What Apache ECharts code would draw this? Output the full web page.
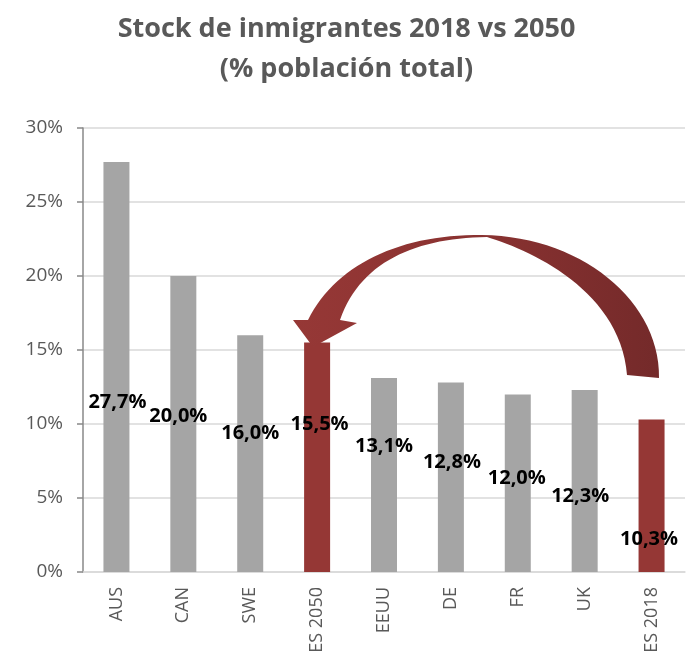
<!DOCTYPE html>
<html>
<head>
<meta charset="utf-8">
<script src="https://cdn.jsdelivr.net/npm/echarts@6/dist/echarts.min.js"></script>
<style>
html,body{margin:0;padding:0;background:#fff;}
#chart{width:693px;height:664px;}
</style>
</head>
<body>
<div id="chart"></div>
<script>
var categories = ['AUS', 'CAN', 'SWE', 'ES 2050', 'EEUU', 'DE', 'FR', 'UK', 'ES 2018'];
var values = [27.7, 20.0, 16.0, 15.5, 13.1, 12.8, 12.0, 12.3, 10.3];
var highlighted = ['ES 2050', 'ES 2018'];
var yTicks = [0, 5, 10, 15, 20, 25, 30];
var titleText = 'Stock de inmigrantes 2018 vs 2050\n(% población total)';

// label offsets (style only): [dx, dy] from the bar's inside-bottom anchor
var labelOffsets = [[1, -160], [-5, -146], [0, -129], [2.5, -138], [0, -116], [1, -100], [-1, -84], [-4.5, -66], [-2.5, -23]];

var GRAY = '#a5a5a5';
var RED = '#953735';

// decorative curved arrow outline (pixel space)
function bez(p0, p1, p2, p3, n) {
  var pts = [];
  for (var i = 0; i <= n; i++) {
    var t = i / n, u = 1 - t;
    pts.push([
      u*u*u*p0[0] + 3*u*u*t*p1[0] + 3*u*t*t*p2[0] + t*t*t*p3[0],
      u*u*u*p0[1] + 3*u*u*t*p1[1] + 3*u*t*t*p2[1] + t*t*t*p3[1]
    ]);
  }
  return pts;
}
var arrowPts = []
  .concat(bez([659, 378], [660, 300], [580, 236], [482, 235], 30))
  .concat(bez([482, 235], [400, 234], [335, 265], [308, 320], 30))
  .concat([[293, 320], [313, 347], [357, 323], [340, 320]])
  .concat(bez([340, 320], [360, 262], [415, 238], [487, 237], 30))
  .concat(bez([487, 237], [530, 250], [620, 290], [627, 375], 30));

var chart = echarts.init(document.getElementById('chart'));
var data = values.map(function (v, i) {
  return {
    value: v,
    itemStyle: { color: highlighted.indexOf(categories[i]) >= 0 ? RED : GRAY },
    label: { offset: labelOffsets[i] }
  };
});

var option = {
  animation: false,
  backgroundColor: '#fff',
  title: {
    text: titleText,
    left: 'center',
    top: 4,
    textStyle: {
      fontFamily: 'Open Sans',
      fontWeight: 'bold',
      fontSize: 27,
      color: '#595959',
      lineHeight: 40
    }
  },
  grid: { left: 83, right: 8, top: 128, bottom: 92, containLabel: false },
  xAxis: {
    type: 'category',
    data: categories,
    axisLine: { lineStyle: { color: '#d9d9d9', width: 1.5 } },
    axisTick: { show: false },
    axisLabel: {
      rotate: 90,
      interval: 0,
      margin: 15,
      fontFamily: 'Open Sans',
      fontSize: 18,
      color: '#595959'
    }
  },
  yAxis: {
    type: 'value',
    min: yTicks[0],
    max: yTicks[yTicks.length - 1],
    interval: yTicks[1] - yTicks[0],
    axisLine: { show: true, lineStyle: { color: '#888888', width: 1.5 } },
    axisTick: { show: true, length: 6, lineStyle: { color: '#888888', width: 1.5 } },
    splitLine: { lineStyle: { color: '#d9d9d9', width: 1.5 } },
    axisLabel: {
      margin: 20,
      fontFamily: 'Open Sans',
      fontSize: 19,
      color: '#595959',
      formatter: function (v) { return v + '%'; }
    }
  },
  series: [{
    type: 'bar',
    data: data,
    barWidth: 26,
    label: {
      show: true,
      position: 'insideBottom',
      distance: 0,
      fontFamily: 'Open Sans',
      fontWeight: 'bold',
      fontSize: 20,
      lineHeight: 20,
      color: '#000',
      formatter: function (p) { return p.value.toFixed(1).replace('.', ',') + '%'; }
    }
  }],
  graphic: [{
    type: 'polygon',
    z: 100,
    shape: { points: arrowPts },
    style: {
      fill: {
        type: 'linear', x: 0, y: 0, x2: 1, y2: 0,
        colorStops: [
          { offset: 0, color: '#963836' },
          { offset: 0.5, color: '#8a3231' },
          { offset: 1, color: '#742a2a' }
        ]
      }
    }
  }]
};
chart.setOption(option);
</script>
</body>
</html>
